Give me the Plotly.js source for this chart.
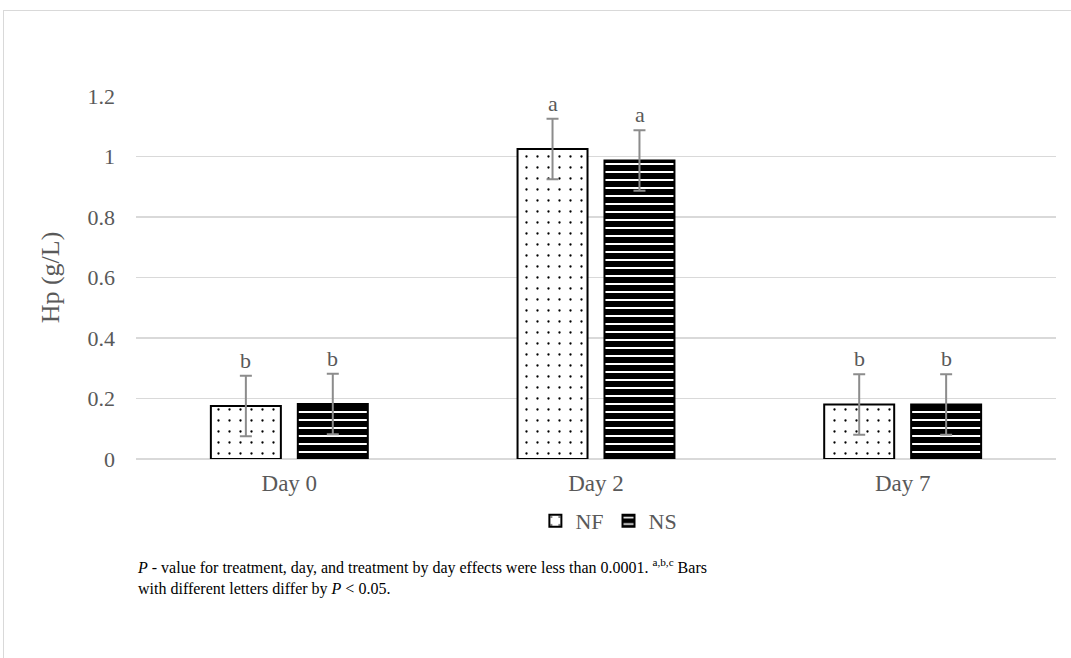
<!DOCTYPE html>
<html>
<head>
<meta charset="utf-8">
<script src="https://cdn.plot.ly/plotly-3.0.1.min.js"></script>
<style>
html,body{margin:0;padding:0;background:#fff;}
#wrap{position:relative;width:1071px;height:658px;overflow:hidden;}
#frame{position:absolute;left:3px;top:10px;width:1100px;height:700px;border-left:1px solid #d9d9d9;border-top:1px solid #d9d9d9;pointer-events:none;}
#chart{position:absolute;left:0;top:0;width:1071px;height:658px;}
</style>
</head>
<body>
<div id="wrap"><div id="chart"></div><div id="frame"></div></div>
<script>
// Data
const categories = ["Day 0", "Day 2", "Day 7"];
const nfValues = [0.175, 1.025, 0.18];
const nsValues = [0.182, 0.987, 0.18];
const nfErrors = [0.1, 0.1, 0.1];
const nsErrors = [0.1, 0.1, 0.1];
const nfLetters = ["b", "a", "b"];
const nsLetters = ["b", "a", "b"];
const yTicks = [0, 0.2, 0.4, 0.6, 0.8, 1, 1.2];
const yTickLabels = ["0", "0.2", "0.4", "0.6", "0.8", "1", "1.2"];

const serif = "Liberation Serif";
const errStyle = {type: "data", visible: true, color: "#8c8c8c", thickness: 2, width: 6};

const traces = [
  {
    type: "bar", name: "NF", x: categories, y: nfValues,
    error_y: Object.assign({array: nfErrors}, errStyle),
    marker: {color: "#ffffff", line: {color: "#000000", width: 2},
      pattern: {shape: ".", fgcolor: "#000000", bgcolor: "#ffffff", size: 11, solidity: 0.035}}
  },
  {
    type: "bar", name: "NS", x: categories, y: nsValues,
    error_y: Object.assign({array: nsErrors}, errStyle),
    marker: {color: "#000000", line: {color: "#000000", width: 2},
      pattern: {shape: "-", fgcolor: "#ffffff", bgcolor: "#000000", size: 8, solidity: 0.25}}
  }
];

// Letter annotations above the error bars
const barOffsetPx = 43.5;
const annotations = [];
categories.forEach((c, i) => {
  annotations.push({x: c, y: nfValues[i] + nfErrors[i], xref: "x", yref: "y", text: nfLetters[i],
    showarrow: false, xshift: -barOffsetPx, yanchor: "bottom", yshift: 1,
    font: {family: serif, size: 22, color: "#595959"}});
  annotations.push({x: c, y: nsValues[i] + nsErrors[i], xref: "x", yref: "y", text: nsLetters[i],
    showarrow: false, xshift: barOffsetPx, yanchor: "bottom", yshift: 1,
    font: {family: serif, size: 22, color: "#595959"}});
});
annotations.push({
  xref: "paper", yref: "paper", x: -0.001, y: -0.262, xanchor: "left", yanchor: "top", align: "left",
  showarrow: false,
  text: "<i>P</i> - value for treatment, day, and treatment by day effects were less than 0.0001. <sup>a,b,c</sup> Bars<br>with different letters differ by <i>P</i> &lt; 0.05.",
  font: {family: serif, size: 16, color: "#000000"}
});

const layout = {
  width: 1071, height: 658,
  margin: {l: 136, r: 15, t: 96, b: 199, autoexpand: false},
  paper_bgcolor: "#ffffff", plot_bgcolor: "#ffffff",
  barmode: "group", bargap: 0.433, bargroupgap: 0.195,
  showlegend: true,
  legend: {orientation: "h", x: 0.514, xanchor: "center", y: -0.171, yanchor: "middle",
    font: {family: serif, size: 22, color: "#595959"}, itemwidth: 30, tracegroupgap: 0},
  xaxis: {type: "category", showgrid: false, zeroline: false, showline: false, ticks: "",
    tickfont: {family: serif, size: 23, color: "#595959"}, ticklabelstandoff: 8},
  yaxis: {range: [0, 1.2], tickvals: yTicks, ticktext: yTickLabels, showgrid: true,
    gridcolor: "#d9d9d9", gridwidth: 1.5, zeroline: true, zerolinecolor: "#d9d9d9", zerolinewidth: 1.5,
    showline: false, ticks: "", ticklabelstandoff: 20,
    tickfont: {family: serif, size: 22, color: "#595959"},
    title: {text: "Hp (g/L)", font: {family: serif, size: 26, color: "#595959"}, standoff: 20}},
  annotations: annotations,
  font: {family: serif}
};

Plotly.newPlot("chart", traces, layout, {displayModeBar: false, staticPlot: true});
</script>
</body>
</html>
